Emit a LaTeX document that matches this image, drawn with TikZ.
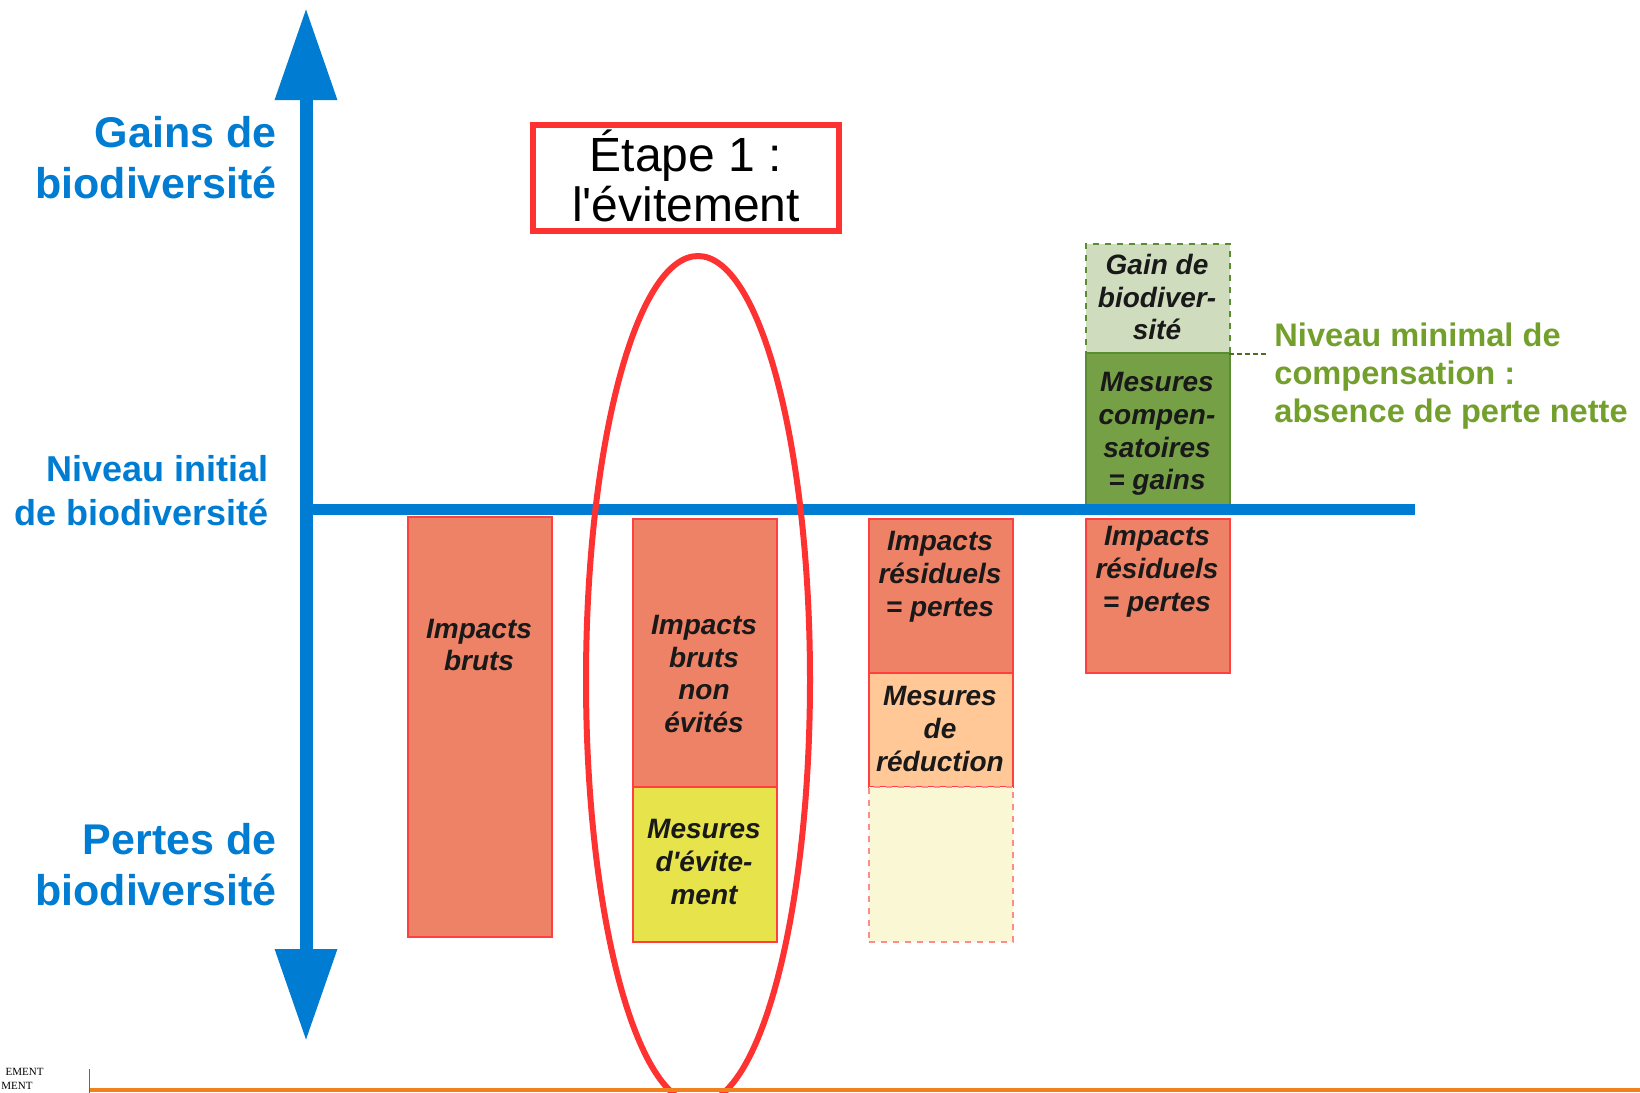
\documentclass[tikz,border=0pt]{standalone}
\usepackage{fontspec}
\setmainfont{Liberation Sans}[Ligatures=TeXOff]
\newfontfamily\serifft{Liberation Serif}
\usetikzlibrary{arrows.meta,shapes.geometric}
\definecolor{axisblue}{RGB}{0,125,210}
\definecolor{salmon}{RGB}{238,130,102}
\definecolor{boxred}{RGB}{255,64,64}
\definecolor{evityellow}{RGB}{230,228,74}
\definecolor{peach}{RGB}{255,200,150}
\definecolor{paleyellow}{RGB}{250,248,212}
\definecolor{lightgreen}{RGB}{208,220,190}
\definecolor{darkgreen}{RGB}{118,160,70}
\definecolor{greenedge}{RGB}{90,140,50}
\definecolor{olive}{RGB}{115,160,45}
\definecolor{markred}{RGB}{255,50,50}
\definecolor{orangeline}{RGB}{240,130,30}
\tikzset{
  bar/.style={rectangle, draw=boxred, line width=1.1pt, fill=salmon, minimum width=72pt, inner sep=0pt, anchor=north west},
  bartext/.style={font=\fontsize{14}{16.4}\selectfont\bfseries\itshape, align=center, text=black!90, inner sep=0pt},
  axislabel/.style={font=\fontsize{21.5}{25.5}\selectfont\bfseries, text=axisblue, align=right, anchor=east, inner sep=0pt},
}
\begin{document}
\begin{tikzpicture}[x=0.5pt,y=-0.5pt]
\useasboundingbox (0,0) rectangle (1640,1093);
% boxes
\node[bar, minimum height=210pt] (b1) at (407,516) {};
\node[bar, minimum height=134pt] (b2r) at (632,518) {};
\node[bar, fill=evityellow, minimum height=77.5pt] (b2y) at (632,786) {};
\node[bar, minimum height=77pt] (b3r) at (868,518) {};
\node[bar, fill=peach, minimum height=57pt] (b3p) at (868,672) {};
\node[bar, fill=paleyellow, draw=boxred!60, dashed, minimum height=77.5pt] (b3d) at (868,786) {};
\node[bar, fill=lightgreen, draw=greenedge, dashed, minimum height=54.5pt] (b4l) at (1085,243) {};
\node[bar, fill=darkgreen, draw=greenedge, minimum height=78.5pt] (b4g) at (1085,352) {};
\node[bar, minimum height=77pt] (b4r) at (1085,518) {};
% box texts
\node[bartext] (t1) at (479,645) {Impacts\\bruts};
\node[bartext] (t2r) at (704,674) {Impacts\\bruts\\non\\évités};
\node[bartext] (t2y) at (704,862) {Mesures\\d'évite-\\ment};
\node[bartext] (t3r) at (940,577) {Impacts\\résiduels\\= pertes};
\node[bartext] (t3p) at (940,729) {Mesures\\de\\réduction};
\node[bartext] (t4l) at (1157,297) {Gain de\\biodiver-\\sité};
\node[bartext] (t4g) at (1157,434) {Mesures\\compen-\\satoires\\= gains};
\node[bartext] (t4r) at (1157,572) {Impacts\\résiduels\\= pertes};
% axes
\coordinate (top) at (306,8);
\coordinate (bot) at (306,1041);
\coordinate (origin) at (300,509);
\coordinate (hend) at (1415,509);
\draw[axisblue, line width=5.5pt] (origin) -- (hend);
\draw[axisblue, line width=6.5pt, {Triangle[length=46pt,width=29.5pt]}-{Triangle[length=46pt,width=29.5pt]}] (bot) -- (top);
% axis labels
\node[axislabel] (gains) at (277,158) {Gains de\\biodiversité};
\node[axislabel, font=\fontsize{18}{22}\selectfont\bfseries] (initial) at (269,491) {Niveau initial\\de biodiversité};
\node[axislabel] (pertes) at (277,865) {Pertes de\\biodiversité};
% minimal level
\coordinate (minstart) at (1229,354);
\coordinate (minend) at (1266,354);
\draw[greenedge!80!black, dash pattern=on 2.5pt off 1.5pt, line width=1pt] (minstart) -- (minend);
\node[anchor=west, inner sep=0pt, align=left, text=olive, font=\fontsize{16.3}{18.8}\selectfont\bfseries] (minimal) at (1274,376) {Niveau minimal de\\compensation :\\absence de perte nette};
% step 1
\node[draw=markred, line width=3pt, minimum width=153pt, minimum height=53pt, inner sep=0pt] (etapebox) at (686,178) {};
\node[inner sep=0pt, align=center, font=\fontsize{24}{25}\selectfont] (etape) at (686,176) {Étape 1 :\\l'évitement};
\node[ellipse, draw=markred, line width=3pt, minimum width=112pt, minimum height=424pt, inner sep=0pt] (evit) at (698,680) {};
% bottom page remnants
\coordinate (pl) at (89,1090);
\coordinate (pr) at (1640,1090);
\coordinate (vt) at (89,1069);
\coordinate (vb) at (89,1093);
\draw[orangeline, line width=1.6pt] (pl) -- (pr);
\draw[black!60, line width=0.5pt] (vt) -- (vb);
\node[anchor=east, inner sep=0pt, font=\serifft\fontsize{5.5}{6}\selectfont] (foot1) at (44,1072) {EMENT};
\node[anchor=east, inner sep=0pt, font=\serifft\fontsize{5.5}{6}\selectfont] (foot2) at (33,1086) {MENT};
\end{tikzpicture}
\end{document}
